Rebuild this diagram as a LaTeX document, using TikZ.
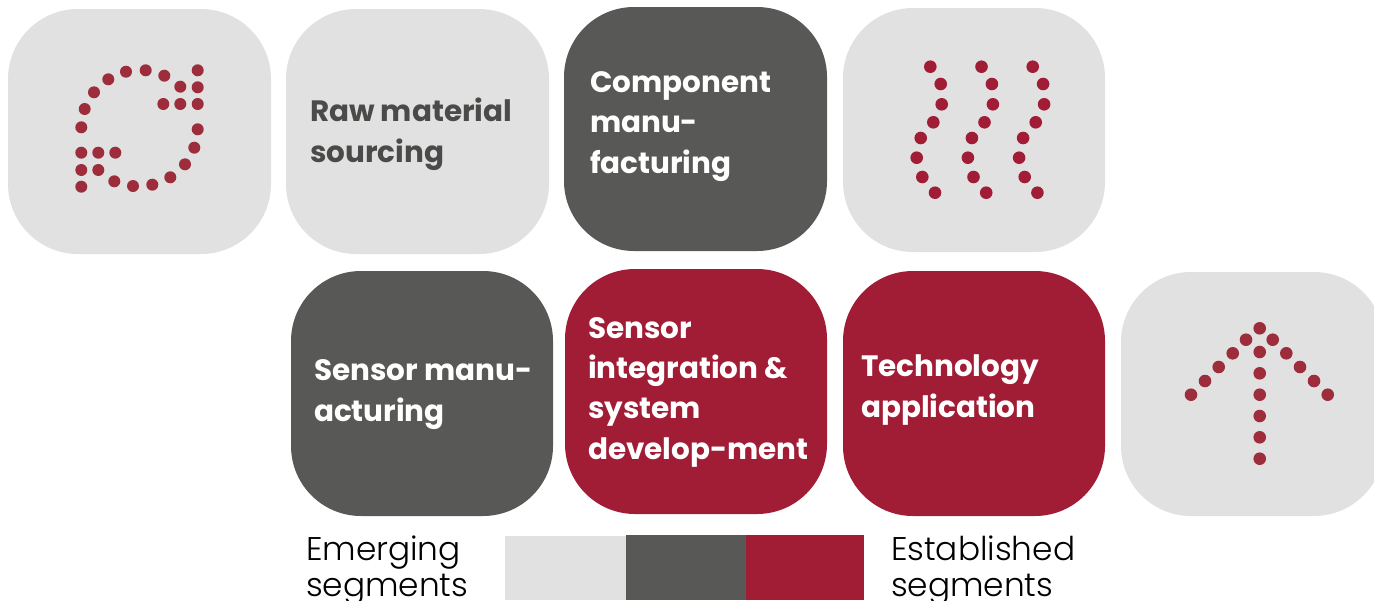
\documentclass[tikz,border=0pt]{standalone}
\usepackage{fontspec}
\setmainfont{Poppins}
\newfontfamily\lgtfont{Poppins Light}
\definecolor{lightseg}{HTML}{E1E1E1}
\definecolor{darkseg}{HTML}{585856}
\definecolor{redseg}{HTML}{A11C35}
\definecolor{dotmuted}{HTML}{9E2D3C}
\definecolor{rawtext}{HTML}{4A4A48}
\tikzset{x=0.75pt,y=-0.75pt,
  seg/.style={rounded corners=52.5pt,draw=none},
  lbl/.style={anchor=base west,align=left,inner sep=0pt,outer sep=0pt,font=\fontsize{22.1}{30.1}\bfseries\selectfont},
  lgd/.style={anchor=base west,align=left,inner sep=0pt,outer sep=0pt,font=\fontsize{24.6}{27}\lgtfont},
  dotm/.style={fill=dotmuted,draw=none},
  dotr/.style={fill=redseg,draw=none}}
\begin{document}
\begin{tikzpicture}
\useasboundingbox (0,0) rectangle (1374,600);
\begin{scope}
\clip (0,0) rectangle (1374,600);
\fill[lightseg,seg] (8,9) rectangle (271,254);
\fill[lightseg,seg] (286,9) rectangle (549,254);
\fill[darkseg,seg] (564,7) rectangle (827,251);
\fill[lightseg,seg] (843,8) rectangle (1105,252);
\fill[darkseg,seg] (291,271) rectangle (553,516);
\fill[redseg,seg] (565,269) rectangle (827,514);
\fill[redseg,seg] (843,271) rectangle (1105,516);
\fill[lightseg,seg] (1121,272) rectangle (1384,516);
\fill[lightseg] (505,536) rectangle (626,600);
\fill[darkseg] (626,535) rectangle (746,600);
\fill[redseg] (746,535) rectangle (864,600);
\foreach \a/\b in {197.7/70.3,180.3/86.7,197.7/87.3,163.3/104,180.3/104,197.7/104,
  81.3/127.3,84.7/109,94/92.3,108.3/79.3,126/71.7,145.7/70.3,164.3/75.7,
  197.7/129.3,194.3/147.7,185/164.3,170.3/177.3,152.3/184.7,133/186,114.3/181.3,
  81.3/152.7,98.3/152.7,115.3/152.7,81.3/170,98.3/170,81.3/186.7}{
  \fill[dotm] (\a,\b) circle[radius=6];
}
\foreach \dx in {0,51.2,102.4}{
  \foreach \a/\b in {930.3/66.7,940.7/84,941.7/104.3,933.3/122.3,920.7/138,916.7/157.7,922.3/177,935/192.7}{
    \fill[dotr] (\a+\dx,\b) circle[radius=6.3];
  }
}
\foreach \a/\b in {1259.7/328.3,1246/339.7,1272.7/339.7,1232.7/353.3,1286.3/353.3,1218.7/367,1300/367,1205/381,1314/381,1191/394.7,1327.7/394.7,
  1259.7/352,1259.7/373.3,1259.7/394.7,1259.7/416,1259.7/437.3,1259.7/458.7}{
  \fill[dotm] (\a,\b) circle[radius=6.3];
}
\end{scope}
\node[lbl,text=rawtext] (raw) at (310,162) {Raw material\\sourcing};
\node[lbl,text=white] (comp) at (590,173) {Component\\manu-\\facturing};
\node[lbl,text=white] (sens) at (314,421) {Sensor manu-\\acturing};
\node[lbl,text=white] (integ) at (588,459) {Sensor\\integration \&\\system\\develop-ment};
\node[lbl,text=white] (tech) at (861,417) {Technology\\application};
\node[lgd,text=black] (emerg) at (306,596) {Emerging\\segments};
\node[lgd,text=black] (estab) at (891,596) {Established\\segments};
\end{tikzpicture}
\end{document}
